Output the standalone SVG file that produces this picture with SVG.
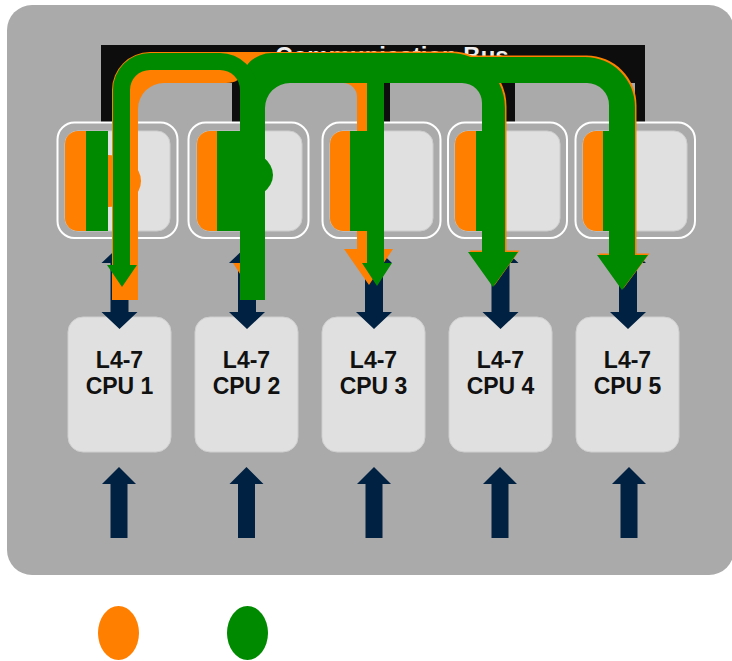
<svg xmlns="http://www.w3.org/2000/svg" width="732" height="661" viewBox="0 0 732 661">
  <style>
    .panel { fill: #aaaaaa; }
    .win { fill: #aaaaaa; }
    .bus { fill: #0d0d0d; }
    .bustext { font-family: "Liberation Sans", Arial, sans-serif; font-weight: bold; font-size: 24px; fill: #eeeeee; }
    .nicout { fill: none; stroke: #ffffff; stroke-width: 2; }
    .nicin { fill: #e0e0e0; stroke: #cdcdcd; stroke-width: 1; }
    .cpu { fill: #e0e0e0; stroke: #cfcfcf; stroke-width: 1; }
    .cputext { font-family: "Liberation Sans", Arial, sans-serif; font-weight: bold; font-size: 23px; fill: #111111; text-anchor: middle; }
    .org { fill: #ff7f00; }
    .grn { fill: #008a00; }
    .navy { fill: #002142; }
  </style>
  <defs>
    <path id="dbl" d="M0,246 L18,263 H9 V312 H18 L0,329 L-18,312 H-9 V263 H-18 Z"/>
    <path id="up" d="M0,467 L17,484 H8.5 V538 H-8.5 V484 H-17 Z"/>
    <path id="gR" d="M240,300 V85 A32,32 0 0 1 272,53 H450 A55,55 0 0 1 470.6,57 L585,57 A50,50 0 0 1 635,107 V255 H648 L622,290 L597,255 H609 V105 A22,22 0 0 0 587,83 H499 A55,55 0 0 1 505,108 V252 H518 L493,287 L468,252 H482 V103 A20,20 0 0 0 462,83 H384 V263 H392 L377,286 L362,263 H367 V83 H290 A25,25 0 0 0 265,108 V300 Z"/>
    <clipPath id="clipR">
      <rect x="330" y="0" width="410" height="83"/>
      <rect x="400" y="83" width="340" height="230"/>
    </clipPath>
  </defs>

  <rect class="panel" x="7" y="5" width="727" height="570" rx="25" ry="25"/>

  <g id="bus">
    <rect class="bus" x="101" y="45" width="544" height="78"/>
    <text class="bustext" x="392" y="64" text-anchor="middle">Communication Bus</text>
    <rect class="win" x="125" y="83" width="107" height="40"/>
    <rect class="win" x="241" y="83" width="143" height="40"/>
    <rect class="win" x="390" y="83" width="109" height="40"/>
    <rect class="win" x="515" y="83" width="120" height="40"/>
  </g>

  <g id="nic-1">
    <rect class="nicout" x="57.5" y="122.5" width="120" height="115.5" rx="17"/>
    <rect class="nicin" x="65" y="131" width="105" height="100" rx="13"/>
  </g>
  <g id="nic-2">
    <rect class="nicout" x="188.5" y="122.5" width="120" height="115.5" rx="17"/>
    <rect class="nicin" x="197" y="131" width="105" height="100" rx="13"/>
  </g>
  <g id="nic-3">
    <rect class="nicout" x="322.5" y="122.5" width="118" height="115.5" rx="17"/>
    <rect class="nicin" x="330" y="131" width="103" height="100" rx="13"/>
  </g>
  <g id="nic-4">
    <rect class="nicout" x="448" y="122.5" width="119" height="115.5" rx="17"/>
    <rect class="nicin" x="455" y="131" width="105" height="100" rx="13"/>
  </g>
  <g id="nic-5">
    <rect class="nicout" x="575.5" y="122.5" width="119.5" height="115.5" rx="17"/>
    <rect class="nicin" x="583" y="131" width="104" height="100" rx="13"/>
  </g>

  <g id="cpu-1">
    <rect class="cpu" x="68" y="317" width="103" height="135" rx="15"/>
    <text class="cputext" x="119.5" y="368">L4-7</text>
    <text class="cputext" x="119.5" y="394">CPU 1</text>
  </g>
  <g id="cpu-2">
    <rect class="cpu" x="195" y="317" width="103" height="135" rx="15"/>
    <text class="cputext" x="246.5" y="368">L4-7</text>
    <text class="cputext" x="246.5" y="394">CPU 2</text>
  </g>
  <g id="cpu-3">
    <rect class="cpu" x="322" y="317" width="103" height="135" rx="15"/>
    <text class="cputext" x="373.5" y="368">L4-7</text>
    <text class="cputext" x="373.5" y="394">CPU 3</text>
  </g>
  <g id="cpu-4">
    <rect class="cpu" x="449" y="317" width="103" height="135" rx="15"/>
    <text class="cputext" x="500.5" y="368">L4-7</text>
    <text class="cputext" x="500.5" y="394">CPU 4</text>
  </g>
  <g id="cpu-5">
    <rect class="cpu" x="576" y="317" width="103" height="135" rx="15"/>
    <text class="cputext" x="627.5" y="368">L4-7</text>
    <text class="cputext" x="627.5" y="394">CPU 5</text>
  </g>

  <g id="connectors">
    <use href="#dbl" class="navy" x="119.5"/>
    <use href="#dbl" class="navy" x="247"/>
    <use href="#dbl" class="navy" x="374"/>
    <use href="#dbl" class="navy" x="500.5"/>
    <use href="#dbl" class="navy" x="628"/>
    <use href="#up" class="navy" x="119"/>
    <use href="#up" class="navy" x="246.5"/>
    <use href="#up" class="navy" x="374"/>
    <use href="#up" class="navy" x="500"/>
    <use href="#up" class="navy" x="629"/>
    <path class="org" d="M112,300 V90 A38,38 0 0 1 150,52 H333 A48,48 0 0 1 381,100 V249 H393 L369,285 L344,249 H357 V97 A14,14 0 0 0 343,83 H275 A13,13 0 0 0 262,96 V263 H265 L249,288 L233,263 H241 V72 Q241,83 226,83 H164 A26,26 0 0 0 138,109 V300 Z"/>
  </g>

  <g id="nic-ports">
    <g id="nic-1-ports">
      <path class="org" d="M78,131 H86 V231 H78 A13,13 0 0 1 65,218 V144 A13,13 0 0 1 78,131 Z"/>
      <rect class="grn" x="86" y="131" width="22" height="100"/>
      <path class="org" d="M108,155 A33,26 0 0 1 108,207 Z"/>
    </g>
    <g id="nic-2-ports">
      <path class="org" d="M210,131 H217 V231 H210 A13,13 0 0 1 197,218 V144 A13,13 0 0 1 210,131 Z"/>
      <rect class="grn" x="217" y="131" width="23" height="100"/>
      <path class="grn" d="M240,150 A33,25 0 0 1 240,200 Z"/>
    </g>
    <g id="nic-3-ports">
      <path class="org" d="M343,131 H350 V231 H343 A13,13 0 0 1 330,218 V144 A13,13 0 0 1 343,131 Z"/>
      <rect class="grn" x="350" y="131" width="33" height="100"/>
    </g>
    <g id="nic-4-ports">
      <path class="org" d="M468,131 H476 V231 H468 A13,13 0 0 1 455,218 V144 A13,13 0 0 1 468,131 Z"/>
      <rect class="grn" x="476" y="131" width="29" height="100"/>
    </g>
    <g id="nic-5-ports">
      <path class="org" d="M596,131 H603 V231 H596 A13,13 0 0 1 583,218 V144 A13,13 0 0 1 596,131 Z"/>
      <rect class="grn" x="603" y="131" width="32" height="100"/>
    </g>
  </g>

  <g id="connectors-front">
    <g clip-path="url(#clipR)">
      <use href="#gR" class="org" transform="translate(1.5,-1.5)"/>
    </g>
    <use href="#gR" class="grn"/>
    <path class="grn" d="M113,265 V90 A37,37 0 0 1 150,53 H220 A37,37 0 0 1 257,90 V300 H240 V90 A20,20 0 0 0 220,70 H150 A20,20 0 0 0 130,90 V265 H137 L122,287 L107,265 Z"/>
  </g>

  <g id="legend">
    <ellipse class="org" cx="118.5" cy="633" rx="20.5" ry="27"/>
    <ellipse class="grn" cx="247.5" cy="633" rx="20.5" ry="27"/>
  </g>
</svg>
